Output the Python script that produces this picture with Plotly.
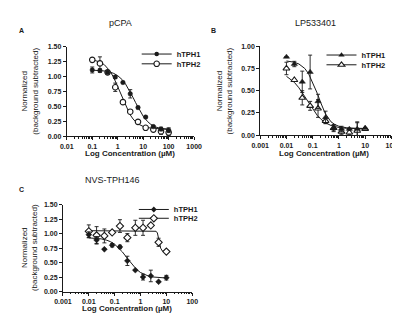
import plotly.graph_objects as go

W, H = 400, 313

# ---------------- data ----------------
conc_A = [0.1, 0.2, 0.4, 0.8, 1.6, 3.1, 6.25, 12.5, 25, 50, 100]
A_tph1 = [1.11, 1.10, 1.07, 0.99, 0.90, 0.71, 0.48, 0.32, 0.16, 0.12, 0.10]
A_tph1_err = [0.05, 0.03, 0.02, 0.02, 0.01, 0.07, 0.02, 0.01, 0.02, 0.03, 0.04]
A_tph2 = [1.28, 1.22, 1.07, 0.82, 0.57, 0.41, 0.24, 0.14, 0.11, 0.08, 0.06]
A_tph2_err = [0.03, 0.11, 0.02, 0.07, 0.01, 0.01, 0.01, 0.01, 0.02, 0.05, 0.05]

fitA_x = [0.1, 0.2, 0.3, 0.5, 0.7, 1, 1.5, 2, 3, 4, 5, 7, 10, 15, 20, 30, 50, 100]
fitA_tph1 = [1.107, 1.10, 1.093, 1.074, 1.052, 1.014, 0.947, 0.879, 0.754, 0.649, 0.565,
             0.444, 0.334, 0.243, 0.197, 0.155, 0.127, 0.11]
fitA_tph2 = [1.281, 1.244, 1.197, 1.09, 0.98, 0.832, 0.643, 0.514, 0.365, 0.288, 0.243,
             0.195, 0.163, 0.143, 0.135, 0.128, 0.124, 0.121]

conc_BC = [0.01, 0.02, 0.04, 0.08, 0.16, 0.31, 0.63, 1.25, 2.5, 5, 10]
B_tph1 = [0.88, 0.80, 0.60, 0.71, 0.38, 0.20, 0.08, 0.07, 0.07, 0.07, 0.08]
B_tph1_err = [0.0, 0.03, 0.12, 0.19, 0.08, 0.07, 0.04, 0.03, 0.0, 0.08, 0.0]
B_tph2 = [0.75, 0.62, 0.42, 0.33, 0.30, 0.16, 0.08, 0.04, 0.03, 0.05, 0.07]
B_tph2_err = [0.07, 0.0, 0.08, 0.05, 0.10, 0.03, 0.03, 0.03, 0.02, 0.09, 0.0]

fitB_x = [0.01, 0.015, 0.02, 0.03, 0.05, 0.07, 0.1, 0.15, 0.2, 0.3, 0.5, 0.7, 1, 2, 5, 10]
fitB_tph1 = [0.834, 0.829, 0.82, 0.80, 0.75, 0.69, 0.595, 0.47, 0.37, 0.245, 0.15, 0.12,
             0.10, 0.083, 0.077, 0.076]
fitB_tph2 = [0.662, 0.628, 0.594, 0.532, 0.433, 0.363, 0.291, 0.222, 0.183, 0.141, 0.109,
             0.096, 0.086, 0.077, 0.072, 0.071]

C_tph1 = [0.98, 0.89, 0.73, 0.80, 0.77, 0.53, 0.37, 0.25, 0.27, 0.17, 0.24]
C_tph1_err = [0.05, 0.06, 0.0, 0.03, 0.03, 0.08, 0.0, 0.05, 0.10, 0.0, 0.04]
C_tph2 = [1.04, 0.97, 0.96, 1.02, 1.13, 0.93, 1.10, 1.10, 1.14, 0.85, 0.69]
C_tph2_err = [0.11, 0.15, 0.12, 0.0, 0.11, 0.07, 0.13, 0.13, 0.0, 0.07, 0.0]

fitC1_x = [0.01, 0.02, 0.03, 0.05, 0.07, 0.1, 0.15, 0.2, 0.3, 0.5, 0.7, 1, 1.5, 2, 3, 5, 10]
fitC_tph1 = [0.926, 0.918, 0.909, 0.885, 0.859, 0.817, 0.747, 0.683, 0.58, 0.452, 0.383,
             0.329, 0.288, 0.269, 0.252, 0.240, 0.234]
fitC2_x = [0.01, 0.1, 1, 2, 3, 4, 4.5, 5, 5.5, 6, 7, 8, 10]
fitC_tph2 = [1.05, 1.05, 1.05, 1.05, 1.05, 1.04, 1.01, 0.92, 0.82, 0.75, 0.70, 0.69, 0.69]

series_names = ["hTPH1", "hTPH2"]
titles = ["pCPA", "LP533401", "NVS-TPH146"]
letters = ["A", "B", "C"]
xticks_A = [0.01, 0.1, 1, 10, 100, 1000]
xticklabels_A = ["0.01", "0.1", "1", "10", "100", "1000"]
xticks_BC = [0.001, 0.01, 0.1, 1, 10, 100]
xticklabels_BC = ["0.001", "0.01", "0.1", "1", "10", "100"]
x_title = "Log Concentration (µM)"
y_title = "Normalized<br>(background subtracted)"

# ---------------- styling ----------------
FONT = "Liberation Sans, Arial, sans-serif"
BLACK = "#1a1a1a"


def xp(p):
    return p / W


def yp(p):
    return 1 - p / H


fig = go.Figure()


def add_panel(ax, conc, d1, e1, d2, e2, fx1, f1, fx2, f2, sym1, sym2, s1, s2, leg1, leg2):
    xa, ya = "x" + ax, "y" + ax
    fig.add_trace(go.Scatter(x=fx1, y=f1, mode="lines", line=dict(color=BLACK, width=1),
                             xaxis=xa, yaxis=ya, showlegend=False, hoverinfo="skip"))
    fig.add_trace(go.Scatter(x=fx2, y=f2, mode="lines", line=dict(color=BLACK, width=1),
                             xaxis=xa, yaxis=ya, showlegend=False, hoverinfo="skip"))
    fig.add_trace(go.Scatter(x=conc, y=d2, mode="markers", xaxis=xa, yaxis=ya, showlegend=False,
                             error_y=dict(type="data", array=e2, color=BLACK, thickness=0.9, width=2),
                             marker=dict(symbol=sym2, size=s2, color="white",
                                         line=dict(color=BLACK, width=1.1))))
    fig.add_trace(go.Scatter(x=conc, y=d1, mode="markers", xaxis=xa, yaxis=ya, showlegend=False,
                             error_y=dict(type="data", array=e1, color=BLACK, thickness=0.9, width=2),
                             marker=dict(symbol=sym1, size=s1, color=BLACK,
                                         line=dict(color=BLACK, width=0.5))))
    # legend entries
    fig.add_trace(go.Scatter(x=[None], y=[None], mode="lines+markers", name=series_names[0],
                             xaxis=xa, yaxis=ya, legend=leg1,
                             line=dict(color=BLACK, width=1),
                             marker=dict(symbol=sym1, size=s1, color=BLACK)))
    fig.add_trace(go.Scatter(x=[None], y=[None], mode="lines+markers", name=series_names[1],
                             xaxis=xa, yaxis=ya, legend=leg2,
                             line=dict(color=BLACK, width=1),
                             marker=dict(symbol=sym2, size=s2, color="white",
                                         line=dict(color=BLACK, width=1.1))))


add_panel("", conc_A, A_tph1, A_tph1_err, A_tph2, A_tph2_err, fitA_x, fitA_tph1, fitA_x, fitA_tph2,
          "circle", "circle", 4.5, 5.5, "legend", "legend2")
add_panel("2", conc_BC, B_tph1, B_tph1_err, B_tph2, B_tph2_err, fitB_x, fitB_tph1, fitB_x, fitB_tph2,
          "triangle-up", "triangle-up", 5.5, 6, "legend3", "legend4")
add_panel("3", conc_BC, C_tph1, C_tph1_err, C_tph2, C_tph2_err, fitC1_x, fitC_tph1, fitC2_x, fitC_tph2,
          "diamond", "diamond", 4.5, 5.5, "legend5", "legend6")

tickfont = dict(family=FONT, size=7, color=BLACK, weight="bold")


def xaxis(domain, rng, tv, tt, anchor):
    return dict(domain=domain, type="log", range=rng, anchor=anchor,
                tickvals=tv, ticktext=tt, showline=True, linecolor=BLACK, linewidth=1,
                ticks="outside", ticklen=3, tickwidth=1, tickcolor=BLACK,
                showgrid=False, zeroline=False, tickfont=tickfont,
                minor=dict(ticks="outside", ticklen=1.5, tickwidth=0.8, tickcolor=BLACK,
                           showgrid=False, dtick="D1"))


def yaxis(domain, rng, anchor):
    return dict(domain=domain, range=rng, anchor=anchor, dtick=0.25, tick0=0, tickformat=".2f",
                showline=True, linecolor=BLACK, linewidth=1, ticks="outside", ticklen=3,
                tickwidth=1, tickcolor=BLACK, showgrid=False, zeroline=False, tickfont=tickfont)


leg_common = dict(bgcolor="rgba(0,0,0,0)", borderwidth=0, xanchor="left", yanchor="middle",
                  itemwidth=30, font=dict(family=FONT, size=7.5, color=BLACK, weight="bold"),
                  tracegroupgap=0)

fig.update_layout(
    width=W, height=H, margin=dict(l=0, r=0, t=0, b=0),
    paper_bgcolor="white", plot_bgcolor="white",
    xaxis=xaxis([xp(52), xp(185)], [-2, 3], xticks_A, xticklabels_A, "y"),
    yaxis=yaxis([yp(127), yp(35.5)], [0, 1.5], "x"),
    xaxis2=xaxis([xp(254), xp(391)], [-3, 2], xticks_BC, xticklabels_BC, "y2"),
    yaxis2=yaxis([yp(126), yp(35)], [0, 1.0], "x2"),
    xaxis3=xaxis([xp(48), xp(183)], [-3, 2], xticks_BC, xticklabels_BC, "y3"),
    yaxis3=yaxis([yp(286), yp(197)], [0, 1.5], "x3"),
    legend=dict(x=xp(125), y=yp(43), **leg_common),
    legend2=dict(x=xp(125), y=yp(53), **leg_common),
    legend3=dict(x=xp(318), y=yp(44), **leg_common),
    legend4=dict(x=xp(318), y=yp(54), **leg_common),
    legend5=dict(x=xp(122), y=yp(202), **leg_common),
    legend6=dict(x=xp(122), y=yp(211), **leg_common),
)

ann = []
title_pos = [(108, 11), (312, 11), (100, 172)]
letter_pos = [(5, 19), (205, 19), (5, 182)]
xtitle_pos = [(118, 145), (321, 145), (115, 303)]
ytitle_pos = [(13, 81), (217, 80.5), (13, 241)]
for i in range(3):
    ann.append(dict(x=xp(title_pos[i][0]), y=yp(title_pos[i][1]), xref="paper", yref="paper",
                    text=titles[i], showarrow=False, xanchor="center", yanchor="middle",
                    font=dict(family=FONT, size=9, color=BLACK)))
    ann.append(dict(x=xp(letter_pos[i][0]), y=yp(letter_pos[i][1]), xref="paper", yref="paper",
                    text="<b>" + letters[i] + "</b>", showarrow=False, xanchor="center", yanchor="middle",
                    font=dict(family=FONT, size=7, color=BLACK)))
    ann.append(dict(x=xp(xtitle_pos[i][0]), y=yp(xtitle_pos[i][1]), xref="paper", yref="paper",
                    text=x_title, showarrow=False, xanchor="center", yanchor="middle",
                    font=dict(family=FONT, size=8, color=BLACK, weight="bold")))
    ann.append(dict(x=xp(ytitle_pos[i][0]), y=yp(ytitle_pos[i][1]), xref="paper", yref="paper",
                    text=y_title, showarrow=False, xanchor="center", yanchor="middle", textangle=-90,
                    font=dict(family=FONT, size=8, color=BLACK)))
fig.update_layout(annotations=ann)

fig.write_html("out.html")
